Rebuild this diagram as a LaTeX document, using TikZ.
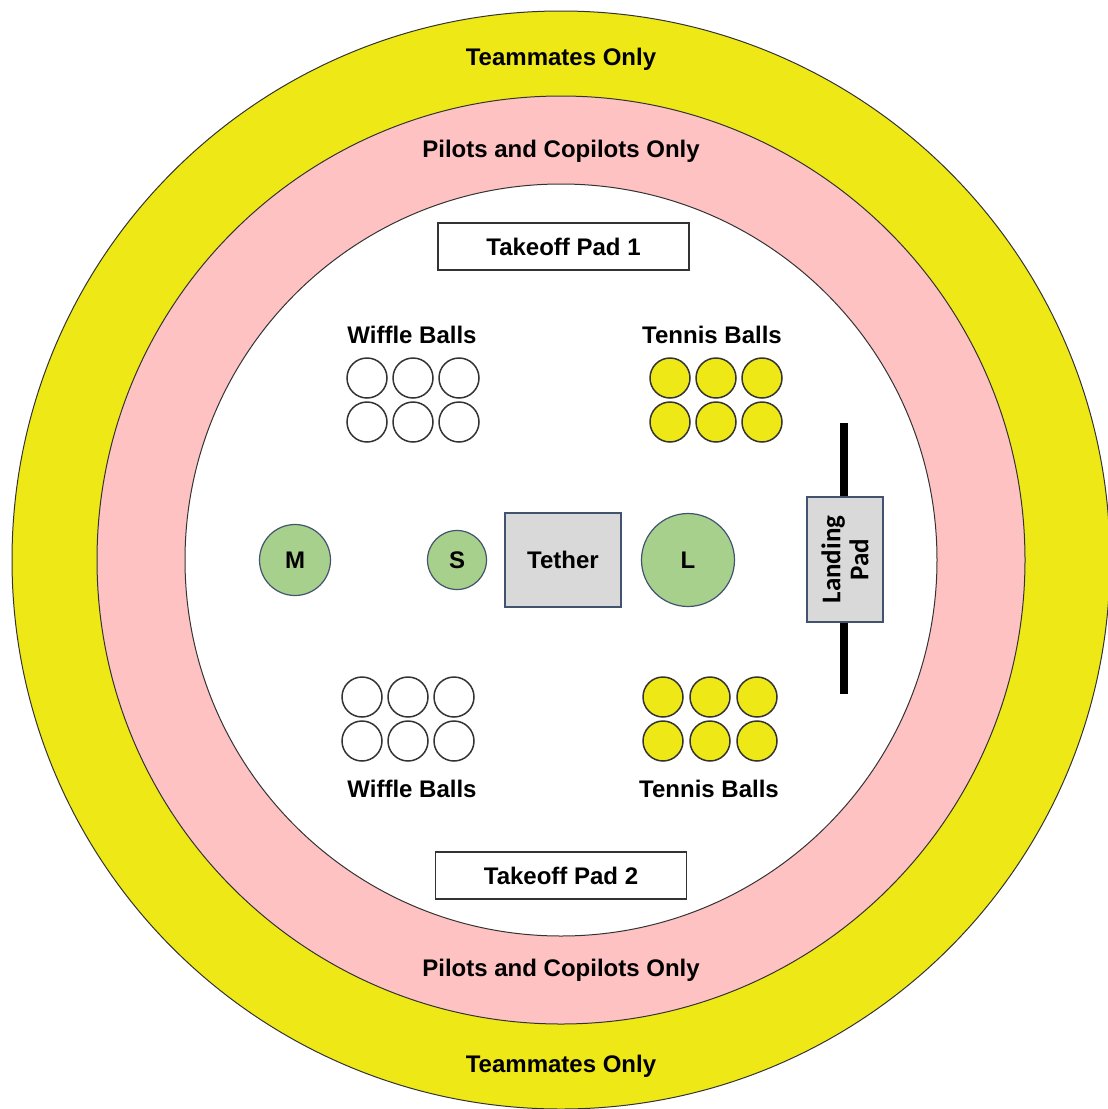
\documentclass[tikz,border=0pt]{standalone}
\usepackage{fontspec}
\setmainfont{Liberation Sans}
\newfontfamily\padfont{Carlito}
\usetikzlibrary{positioning}
\definecolor{Zyellow}{RGB}{238, 232, 23}
\definecolor{Zpink}{RGB}{255, 194, 194}
\definecolor{Dgreen}{RGB}{168, 208, 141}
\definecolor{Dedge}{RGB}{65, 83, 110}
\definecolor{Pgray}{RGB}{217, 217, 217}
\tikzset{
    zring/.style={circle, draw=black!80, line width=1pt, inner sep=0pt},
    zlabel/.style={anchor=base, font=\fontsize{24}{28}\selectfont\bfseries},
    wball/.style={circle, draw=black!80, line width=1.5pt, fill=white,
        minimum size=40pt, inner sep=0pt},
    tball/.style={wball, fill=Zyellow},
    drone/.style={circle, draw=Dedge, line width=1.2pt, fill=Dgreen, inner sep=0pt,
        font=\fontsize{24}{28}\selectfont\bfseries},
    padbox/.style={rectangle, draw=black!80, line width=1.2pt, fill=white,
        minimum width=251pt, minimum height=47pt, inner sep=0pt,
        font=\fontsize{24}{28}\selectfont\bfseries},
    grbox/.style={rectangle, draw=Dedge, line width=1.2pt, fill=Pgray, inner sep=0pt},
}

\begin{document}
\begin{tikzpicture}[x=1pt, y=-1pt]
    \useasboundingbox (0,0) rectangle (1108,1109);

    % zones
    \node [zring, fill=Zyellow, minimum size=1098pt] (team) at (561,560) {};
    \node [zring, fill=Zpink, minimum size=928pt] (pilot) at (561,560) {};
    \node [zring, fill=white, minimum size=752pt] (field) at (561,560) {};

    \node [zlabel] (teamN) at (561,65) {Teammates Only};
    \node [zlabel] (teamS) at (561,1072) {Teammates Only};
    \node [zlabel] (pilotN) at (561,157) {Pilots and Copilots Only};
    \node [zlabel] (pilotS) at (561,976) {Pilots and Copilots Only};

    % takeoff pads
    \node [padbox] (take1) at (563.5,246.5) {Takeoff Pad 1};
    \node [padbox] (take2) at (561,875.5) {Takeoff Pad 2};

    % balls
    \foreach \i in {0,1,2} {
        \foreach \j in {0,1} {
            \node [wball] (wn-\i-\j) at ({367+46*\i},{378+44*\j}) {};
            \node [tball] (tn-\i-\j) at ({670+46*\i},{378+44*\j}) {};
            \node [wball] (ws-\i-\j) at ({362+46*\i},{697+44*\j}) {};
            \node [tball] (ts-\i-\j) at ({663+47*\i},{697+44*\j}) {};
        }
    }
    \node [zlabel] (wlabN) at (412,343) {Wiffle Balls};
    \node [zlabel] (tlabN) at (712,343) {Tennis Balls};
    \node [zlabel] (wlabS) at (412,797) {Wiffle Balls};
    \node [zlabel] (tlabS) at (709,797) {Tennis Balls};

    % drones and tether
    \node [drone, minimum size=71pt] (dm) at (295,560) {M};
    \node [drone, minimum size=59pt] (ds) at (457,560) {S};
    \node [grbox, minimum width=116pt, minimum height=94pt,
        font=\fontsize{24}{28}\selectfont\bfseries] (tether) at (563,560) {Tether};
    \node [drone, minimum size=93pt] (dl) at (688,560) {L};

    % landing pad
    \coordinate (bartop) at (844,423);
    \coordinate (barbot) at (844,694);
    \draw [line width=8pt] (bartop) -- (barbot);
    \node [grbox, rotate=90, minimum width=125pt, minimum height=76pt, align=center,
        font=\padfont\fontsize{27}{28}\selectfont\bfseries] (land) at (845,559.5) {Landing\\Pad};

\end{tikzpicture}
\end{document}
